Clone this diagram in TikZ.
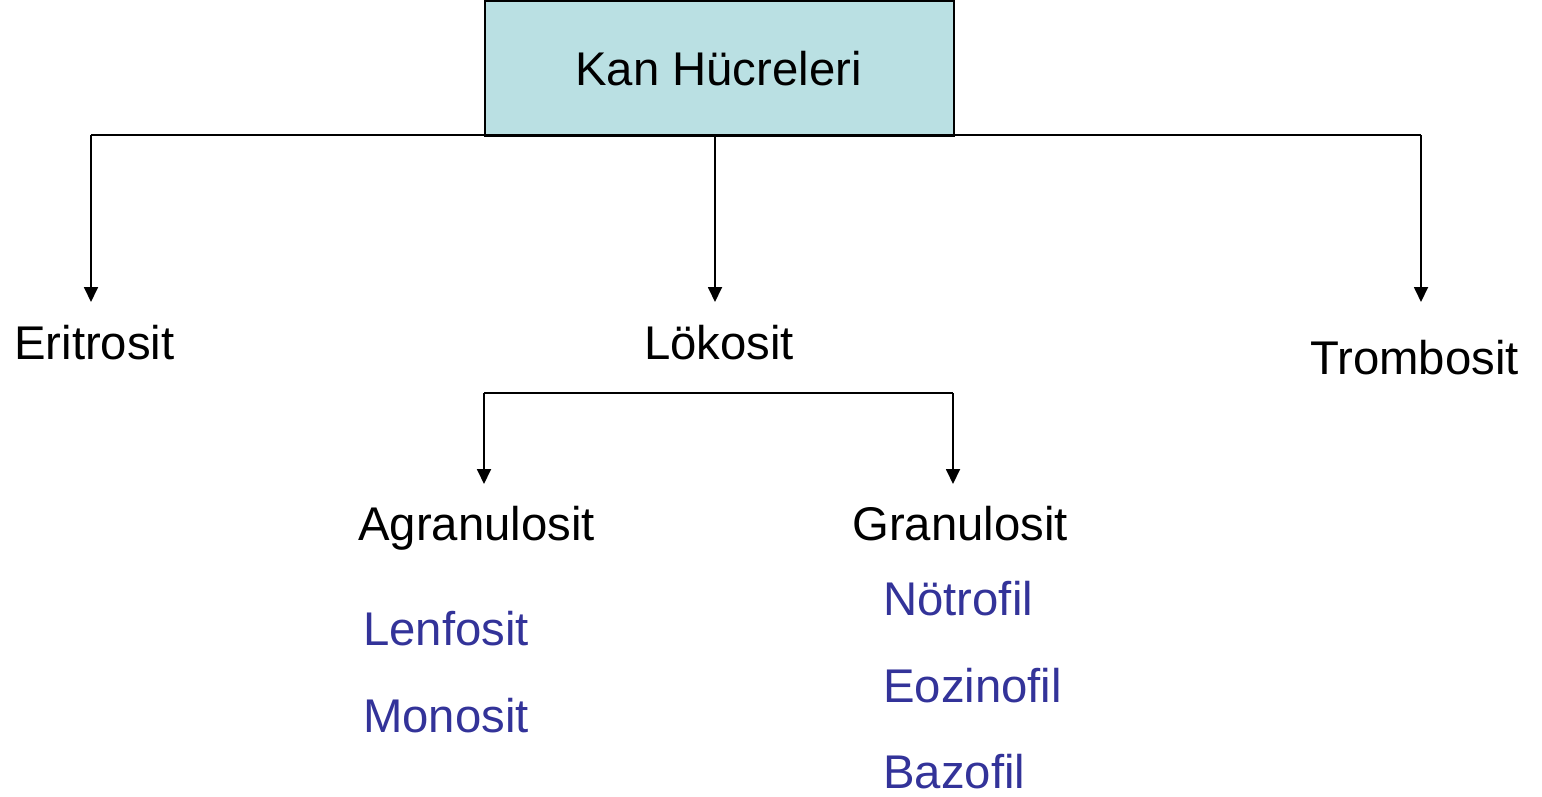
\documentclass[tikz,border=0pt]{standalone}
\usepackage{fontspec}
\setmainfont{Liberation Sans}
\usetikzlibrary{arrows.meta}
\definecolor{boxfill}{HTML}{BAE0E3}
\definecolor{subblue}{HTML}{333399}
\begin{document}
\begin{tikzpicture}[x=1pt,y=-1pt,
  lbl/.style={anchor=base west,inner sep=0pt,font=\fontsize{47.3}{50}\selectfont},
  sub/.style={lbl,text=subblue},
  conn/.style={line width=1.8pt},
  arr/.style={conn,-{Triangle[width=14pt,length=15pt]}}]
\useasboundingbox (0,0) rectangle (1542,796);
\node[draw,line width=1.5pt,fill=boxfill,minimum width=469pt,minimum height=135pt,inner sep=0pt,anchor=north west] (top) at (484,0) {};
\node[lbl] (kan) at (575,85) {Kan Hücreleri};
\node[lbl] (eri) at (14,359) {Eritrosit};
\node[lbl] (lok) at (644,359) {Lökosit};
\node[lbl] (tro) at (1310,374) {Trombosit};
\node[lbl] (agr) at (358,540) {Agranulosit};
\node[lbl] (gra) at (852,540) {Granulosit};
\node[sub] (len) at (363,645) {Lenfosit};
\node[sub] (mon) at (363,732) {Monosit};
\node[sub] (not) at (883,615) {Nötrofil};
\node[sub] (eoz) at (883,702) {Eozinofil};
\node[sub] (baz) at (883,788) {Bazofil};
\coordinate (eriT) at (91,302);
\coordinate (lokS) at (715,135);
\coordinate (lokT) at (715,302);
\coordinate (troT) at (1421,302);
\coordinate (hl) at (91,135);
\coordinate (hr) at (1421,135);
\coordinate (bl) at (484,393);
\coordinate (br) at (953,393);
\coordinate (agrT) at (484,484);
\coordinate (graT) at (953,484);
\draw[conn] (hl) -- (hr);
\draw[arr] (hl) -- (eriT);
\draw[arr] (lokS) -- (lokT);
\draw[arr] (hr) -- (troT);
\draw[conn] (bl) -- (br);
\draw[arr] (bl) -- (agrT);
\draw[arr] (br) -- (graT);
\end{tikzpicture}
\end{document}
